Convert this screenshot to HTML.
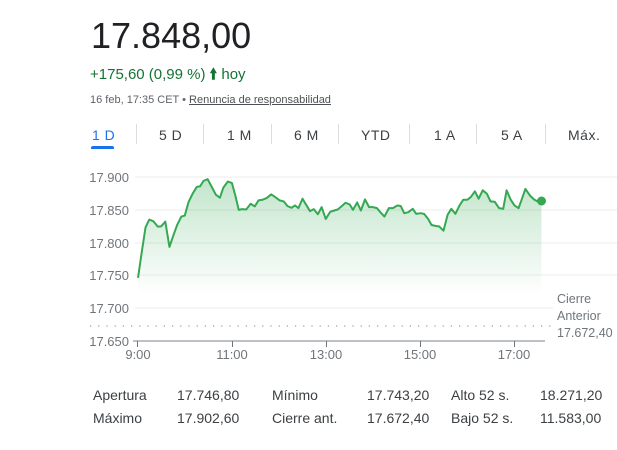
<!DOCTYPE html>
<html><head><meta charset="utf-8"><style>
body{margin:0;width:617px;height:450px;background:#fff;font-family:"Liberation Sans",Arial,sans-serif;position:relative;overflow:hidden}
.a{position:absolute;white-space:nowrap}
.tab{position:absolute;top:127px;font-size:14px;color:#3c4043;letter-spacing:0.5px}
.sep{position:absolute;top:124px;width:1px;height:20px;background:#dadce0}
.st{position:absolute;font-size:14px;color:#3c4043}
</style></head><body>
<div class="a" style="left:91px;top:15px;font-size:36px;color:#202124">17.848,00</div>
<div class="a" style="left:90px;top:64px;font-size:15px;color:#137333">+175,60 (0,99 %) <span style="font-weight:bold">&#129049;</span> hoy</div>
<div class="a" style="left:90px;top:94px;font-size:11px;color:#5f6368">16 feb, 17:35 CET • <span style="text-decoration:underline;color:#4d5156">Renuncia de responsabilidad</span></div>
<div class="tab" style="left:92px;color:#1a73e8">1 D</div>
<div style="position:absolute;left:91px;top:146px;width:23px;height:3px;background:#1a73e8;border-radius:2px 2px 0 0"></div>
<div class="sep" style="left:136px"></div>
<div class="tab" style="left:159px">5 D</div>
<div class="sep" style="left:203px"></div>
<div class="tab" style="left:227px">1 M</div>
<div class="sep" style="left:271px"></div>
<div class="tab" style="left:294px">6 M</div>
<div class="sep" style="left:338px"></div>
<div class="tab" style="left:361px">YTD</div>
<div class="sep" style="left:409px"></div>
<div class="tab" style="left:434px">1 A</div>
<div class="sep" style="left:476px"></div>
<div class="tab" style="left:501px">5 A</div>
<div class="sep" style="left:545px"></div>
<div class="tab" style="left:568px">Máx.</div>

<svg class="a" style="left:0;top:0" width="617" height="450">
<defs><linearGradient id="g" x1="0" y1="0" x2="0" y2="1">
<stop offset="0" stop-color="#34a853" stop-opacity="0.3"/><stop offset="1" stop-color="#34a853" stop-opacity="0"/></linearGradient></defs>
<g stroke="#ececec" stroke-width="1">
<line x1="135" y1="177" x2="617" y2="177"/><line x1="135" y1="210" x2="617" y2="210"/><line x1="135" y1="243" x2="617" y2="243"/><line x1="135" y1="275" x2="617" y2="275"/><line x1="135" y1="308" x2="617" y2="308"/>
</g>
<g font-size="13" fill="#70757a" text-anchor="end" font-family="Liberation Sans,sans-serif">
<text x="129" y="182">17.900</text><text x="129" y="215">17.850</text><text x="129" y="248">17.800</text><text x="129" y="280">17.750</text><text x="129" y="313">17.700</text><text x="129" y="346">17.650</text>
</g>
<line x1="90" y1="326" x2="552" y2="326" stroke="#9aa0a6" stroke-width="1.2" stroke-dasharray="1.2,7"/>
<g transform="translate(80,160) scale(0.3413,0.3367)">
<path fill="url(#g)" d="M170,350 L180,280 192,200 203,177 215,182 228,198 238,197 250,183 262,258 275,220 285,192 297,168 307,165 318,125 330,100 342,80 352,78 362,62 374,57 385,78 398,103 410,112 420,82 433,64 445,68 455,105 465,148 475,146 487,147 500,130 512,138 523,120 535,118 547,113 560,102 572,110 585,120 597,123 608,137 620,142 630,135 640,143 652,115 662,132 674,152 685,146 697,161 708,140 720,175 733,154 745,150 755,147 767,137 778,127 790,132 800,148 812,126 823,150 835,117 847,140 858,140 870,143 880,155 892,168 905,143 917,143 930,135 940,137 950,158 962,155 975,145 985,160 997,158 1008,160 1020,175 1030,193 1043,196 1052,197 1065,210 1077,163 1088,145 1100,160 1112,135 1123,118 1135,118 1145,110 1157,93 1168,115 1180,90 1192,100 1203,123 1215,124 1228,143 1240,145 1250,90 1262,118 1273,135 1285,143 1295,115 1305,86 1318,105 1330,117 1340,123 1352,123 L1352,400 L170,400 Z"/>
<polyline fill="none" stroke="#34a853" stroke-width="2" vector-effect="non-scaling-stroke" stroke-linejoin="round" points="170,350 180,280 192,200 203,177 215,182 228,198 238,197 250,183 262,258 275,220 285,192 297,168 307,165 318,125 330,100 342,80 352,78 362,62 374,57 385,78 398,103 410,112 420,82 433,64 445,68 455,105 465,148 475,146 487,147 500,130 512,138 523,120 535,118 547,113 560,102 572,110 585,120 597,123 608,137 620,142 630,135 640,143 652,115 662,132 674,152 685,146 697,161 708,140 720,175 733,154 745,150 755,147 767,137 778,127 790,132 800,148 812,126 823,150 835,117 847,140 858,140 870,143 880,155 892,168 905,143 917,143 930,135 940,137 950,158 962,155 975,145 985,160 997,158 1008,160 1020,175 1030,193 1043,196 1052,197 1065,210 1077,163 1088,145 1100,160 1112,135 1123,118 1135,118 1145,110 1157,93 1168,115 1180,90 1192,100 1203,123 1215,124 1228,143 1240,145 1250,90 1262,118 1273,135 1285,143 1295,115 1305,86 1318,105 1330,117 1340,123 1352,123"/>
</g>
<circle cx="541.5" cy="201" r="4.5" fill="#34a853"/>
<line x1="133" y1="341" x2="545" y2="341" stroke="#bdc1c6" stroke-width="2"/>
<g stroke="#70757a" stroke-width="1"><line x1="137.5" y1="341" x2="137.5" y2="347"/><line x1="232.5" y1="341" x2="232.5" y2="347"/><line x1="326.5" y1="341" x2="326.5" y2="347"/><line x1="420.5" y1="341" x2="420.5" y2="347"/><line x1="514.5" y1="341" x2="514.5" y2="347"/></g>
<g font-size="13" fill="#70757a" text-anchor="middle" font-family="Liberation Sans,sans-serif">
<text x="138" y="359">9:00</text><text x="232" y="359">11:00</text><text x="326" y="359">13:00</text><text x="420" y="359">15:00</text><text x="514" y="359">17:00</text>
</g>
<rect x="553" y="290" width="64" height="52" fill="#fff"/>
<g font-size="12.5" fill="#70757a" font-family="Liberation Sans,sans-serif">
<text x="557" y="303">Cierre</text><text x="557" y="320">Anterior</text><text x="557" y="337">17.672,40</text>
</g>
</svg>

<div class="st" style="left:93px;top:387px">Apertura</div><div class="st" style="left:177px;top:387px">17.746,80</div>
<div class="st" style="left:272px;top:387px">Mínimo</div><div class="st" style="left:367px;top:387px">17.743,20</div>
<div class="st" style="left:451px;top:387px">Alto 52 s.</div><div class="st" style="left:540px;top:387px">18.271,20</div>
<div class="st" style="left:93px;top:410px">Máximo</div><div class="st" style="left:177px;top:410px">17.902,60</div>
<div class="st" style="left:272px;top:410px">Cierre ant.</div><div class="st" style="left:367px;top:410px">17.672,40</div>
<div class="st" style="left:451px;top:410px">Bajo 52 s.</div><div class="st" style="left:540px;top:410px">11.583,00</div>
</body></html>
